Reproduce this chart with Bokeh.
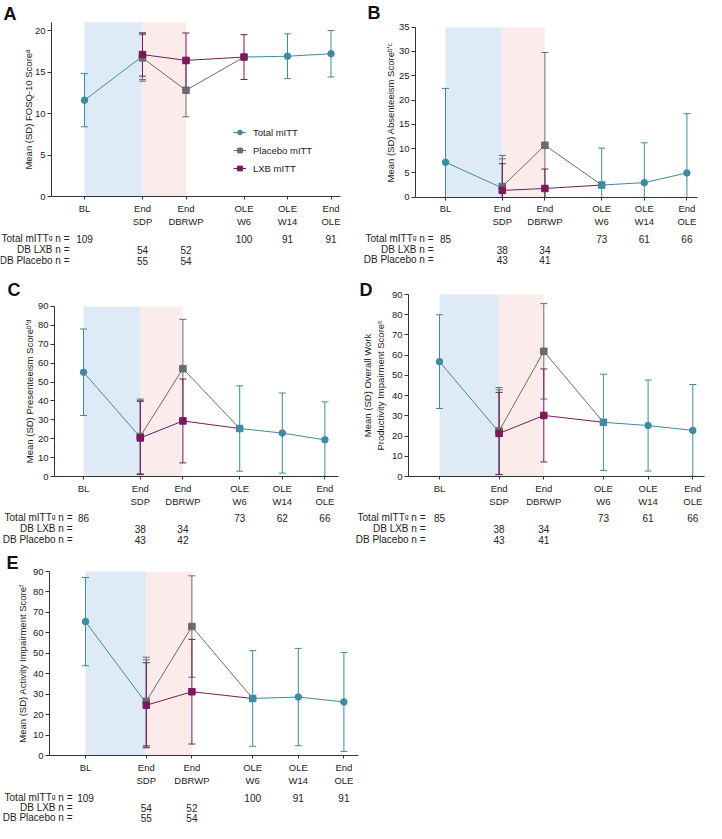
import math
from bokeh.plotting import figure
from bokeh.models import (Range1d, ColumnDataSource, Whisker, TeeHead, BoxAnnotation,
                          FixedTicker, SingleIntervalTicker, Legend, LegendItem)
from bokeh.layouts import column, row
from bokeh.core.properties import value
from bokeh.embed import file_html
from bokeh.resources import INLINE

FONT = "Liberation Sans"
TEAL = "#3f8aa0"
GRAY = "#6b6b6b"
PURPLE = "#7a1a5c"
TXT = "#222222"

# ---------------- data ----------------
timepoints = ["BL", "End\nSDP", "End\nDBRWP", "OLE\nW6", "OLE\nW14", "End\nOLE"]
tp_pos = [0, 4, 7, 11, 14, 17]          # axis scale positions of the time points
row_labels = ["Total mITT\u1d4d n =", "DB LXB n =", "DB Placebo n ="]

# Panel A - FOSQ-10
a_total_mean = [11.6, 16.9, None, 16.8, 16.9, 17.2]
a_total_sd = [3.2, 2.8, None, 2.7, 2.7, 2.8]
a_placebo_mean = [16.7, 12.8]
a_placebo_sd = [2.8, 3.2]
a_lxb_mean = [17.1, 16.4]
a_lxb_sd = [2.6, 3.3]
a_total_n = [109, None, None, 100, 91, 91]
a_lxb_n = [54, 52]
a_placebo_n = [55, 54]

# Panel B - Absenteeism
b_total_mean = [7.2, 1.9, None, 2.5, 3.0, 5.0]
b_total_sd = [15.2, 6.0, None, 7.6, 8.2, 12.2]
b_placebo_mean = [2.2, 10.7]
b_placebo_sd = [6.4, 19.1]
b_lxb_mean = [1.4, 1.8]
b_lxb_sd = [5.5, 4.0]
b_total_n = [85, None, None, 73, 61, 66]
b_lxb_n = [38, 34]
b_placebo_n = [43, 41]

# Panel C - Presenteeism
c_total_mean = [55.2, 20.8, None, 25.4, 23.0, 19.4]
c_total_sd = [22.9, 19.5, None, 22.6, 21.2, 20.1]
c_placebo_mean = [21.2, 57.1]
c_placebo_sd = [19.8, 26.1]
c_lxb_mean = [20.4, 29.4]
c_lxb_sd = [19.4, 22.2]
c_total_n = [86, None, None, 73, 62, 66]
c_lxb_n = [38, 34]
c_placebo_n = [43, 42]

# Panel D - Overall work productivity impairment
d_total_mean = [56.8, 21.9, None, 26.8, 25.2, 22.8]
d_total_sd = [23.2, 21.0, None, 23.8, 22.5, 22.7]
d_placebo_mean = [22.5, 61.9]
d_placebo_sd = [21.5, 23.6]
d_lxb_mean = [21.3, 30.2]
d_lxb_sd = [20.3, 23.0]
d_total_n = [85, None, None, 73, 61, 66]
d_lxb_n = [38, 34]
d_placebo_n = [43, 41]

# Panel E - Activity impairment
e_total_mean = [65.5, 25.5, None, 27.9, 28.6, 26.2]
e_total_sd = [21.6, 21.3, None, 23.4, 23.8, 24.2]
e_placebo_mean = [26.5, 63.1]
e_placebo_sd = [21.6, 24.8]
e_lxb_mean = [24.6, 31.2]
e_lxb_sd = [20.8, 25.6]
e_total_n = [109, None, None, 100, 91, 91]
e_lxb_n = [54, 52]
e_placebo_n = [55, 54]

# ---------------- layout (canvas pixels, origin = top-left of the layout) ----------------
geoA = dict(box=(0, 0, 352, 266), yaxis_x=51, bl_x=84, unit=14.5, xend=340, y0=196, ppu=8.3,
            ymax=21, tick=5, rows=[238, 249, 260], label_right=69, letter=(3, 13.5),
            w6_color=PURPLE, legend=(233, 126), standoff=-2)
geoB = dict(box=(352, 0, 354, 266), yaxis_x=415, bl_x=445, unit=14.2, xend=697, y0=196.7, ppu=4.857,
            ymax=35, tick=5, rows=[238, 249, 259], label_right=433, letter=(367, 12.5),
            w6_color=TEAL, legend=None, standoff=0)
geoC = dict(box=(0, 266, 352, 279), yaxis_x=54, bl_x=83, unit=14.2, xend=338, y0=476, ppu=1.889,
            ymax=90, tick=10, rows=[517, 528, 539], label_right=72, letter=(7, 289),
            w6_color=TEAL, legend=None, standoff=0)
geoD = dict(box=(352, 266, 354, 279), yaxis_x=408, bl_x=439, unit=14.9, xend=704, y0=476, ppu=2.022,
            ymax=90, tick=10, rows=[517, 528, 539], label_right=425, letter=(359, 289),
            w6_color=TEAL, legend=None, standoff=3)
geoE = dict(box=(0, 545, 362, 278), yaxis_x=49, bl_x=85, unit=15.2, xend=358, y0=755, ppu=2.044,
            ymax=90, tick=10, rows=[797, 807, 817], label_right=72, letter=(6, 562),
            w6_color=TEAL, legend=None, standoff=2)


def add_errorbars(p, xs, means, sds, color):
    full = dict(x=[], upper=[], lower=[])
    clip = dict(x=[], upper=[], lower=[])
    for x, m, s in zip(xs, means, sds):
        if m is None:
            continue
        tgt = full if m - s >= 0 else clip
        tgt["x"].append(x)
        tgt["upper"].append(m + s)
        tgt["lower"].append(max(m - s, 0))
    for d, both in ((full, True), (clip, False)):
        if not d["x"]:
            continue
        w = Whisker(source=ColumnDataSource(d), base="x", upper="upper", lower="lower",
                    line_color=color, line_width=1, level="underlay",
                    upper_head=TeeHead(size=7, line_color=color, line_width=1),
                    lower_head=TeeHead(size=7, line_color=color, line_width=1) if both else None)
        p.add_layout(w)


def make_panel(letter, ylabel, tmean, tsd, pmean, psd, lmean, lsd, tn, ln, pn, geo):
    L, T, W, H = geo["box"]
    unit, blx, y0, ppu = geo["unit"], geo["bl_x"], geo["y0"], geo["ppu"]

    def X(px):
        return (px - blx) / unit

    def Y(py):
        return (y0 - py) / ppu

    p = figure(width=W, height=H, x_range=Range1d(X(L), X(L + W)), y_range=Range1d(Y(T + H), Y(T)),
               output_backend="svg", toolbar_location=None, min_border=0,
               outline_line_color=None, background_fill_color="white", border_fill_color="white")
    p.xgrid.visible = False
    p.ygrid.visible = False

    ymax = geo["ymax"]
    p.add_layout(BoxAnnotation(left=tp_pos[0], right=tp_pos[1], bottom=0, top=ymax,
                               fill_color="#dfeaf7", fill_alpha=1, line_color=None, level="image"))
    p.add_layout(BoxAnnotation(left=tp_pos[1], right=tp_pos[2], bottom=0, top=ymax,
                               fill_color="#fcebeb", fill_alpha=1, line_color=None, level="image"))

    # axes
    xa = p.xaxis[0]
    xa.fixed_location = 0
    xa.bounds = (X(geo["yaxis_x"]), X(geo["xend"]))
    xa.ticker = FixedTicker(ticks=tp_pos)
    xa.major_label_overrides = {pos: lab for pos, lab in zip(tp_pos, timepoints)}
    xa.major_tick_in = 0
    xa.major_tick_out = 3
    xa.minor_tick_in = 0
    xa.minor_tick_out = 0
    xa.major_label_standoff = 3
    xa.major_label_text_font = FONT
    xa.major_label_text_font_size = "9.5px"
    xa.major_label_text_color = TXT
    xa.axis_line_color = "#333333"
    xa.major_tick_line_color = "#333333"

    ya = p.yaxis[0]
    ya.fixed_location = X(geo["yaxis_x"])
    ya.bounds = (0, ymax)
    ya.ticker = SingleIntervalTicker(interval=geo["tick"], num_minor_ticks=0)
    ya.major_tick_in = 0
    ya.major_tick_out = 4
    ya.minor_tick_in = 0
    ya.minor_tick_out = 0
    ya.major_label_standoff = 2
    ya.major_label_text_font = FONT
    ya.major_label_text_font_size = "9.5px"
    ya.major_label_text_color = TXT
    ya.axis_label = ylabel
    ya.axis_label_standoff = geo["standoff"]
    ya.axis_label_text_font = FONT
    ya.axis_label_text_font_size = "9.5px"
    ya.axis_label_text_font_style = "normal"
    ya.axis_label_text_color = TXT
    ya.axis_line_color = "#333333"
    ya.major_tick_line_color = "#333333"

    # error bars
    add_errorbars(p, [tp_pos[i] for i in (0, 1, 4, 5)], [tmean[i] for i in (0, 1, 4, 5)],
                  [tsd[i] for i in (0, 1, 4, 5)], TEAL)
    add_errorbars(p, [tp_pos[3]], [tmean[3]], [tsd[3]], geo["w6_color"])
    add_errorbars(p, tp_pos[1:3], pmean, psd, GRAY)
    add_errorbars(p, tp_pos[1:3], lmean, lsd, PURPLE)

    # lines
    ty = [float("nan") if v is None else v for v in tmean]
    tl = p.line(tp_pos, ty, line_color=TEAL, line_width=1)
    pl = p.line(tp_pos[1:4], pmean + [tmean[3]], line_color=GRAY, line_width=1)
    ll = p.line(tp_pos[1:4], lmean + [tmean[3]], line_color=PURPLE, line_width=1)

    # markers
    cidx = [0, 1, 4, 5]
    tc = p.scatter([tp_pos[i] for i in cidx], [tmean[i] for i in cidx], marker="circle", size=6.5,
                   fill_color=TEAL, line_color=TEAL)
    ps = p.scatter(tp_pos[1:3], pmean, marker="square", size=6.5, fill_color=GRAY, line_color=GRAY)
    ls = p.scatter(tp_pos[1:3], lmean, marker="square", size=6.5, fill_color=PURPLE, line_color=PURPLE)
    p.scatter([tp_pos[3]], [tmean[3]], marker="square", size=6.5,
              fill_color=geo["w6_color"], line_color=geo["w6_color"])

    # n table
    rows = [Y(r) for r in geo["rows"]]
    p.text(x=[X(geo["label_right"])] * 3, y=rows, text=row_labels, text_align="right",
           text_baseline="middle", text_font=value(FONT), text_font_size="10px", text_color=TXT)
    nx, ny, nt = [], [], []
    for pos, n in zip(tp_pos, tn):
        if n is not None:
            nx.append(pos); ny.append(rows[0]); nt.append(str(n))
    for pos, n in zip(tp_pos[1:3], ln):
        nx.append(pos); ny.append(rows[1]); nt.append(str(n))
    for pos, n in zip(tp_pos[1:3], pn):
        nx.append(pos); ny.append(rows[2]); nt.append(str(n))
    p.text(x=nx, y=ny, text=nt, text_align="center", text_baseline="middle",
           text_font=value(FONT), text_font_size="10px", text_color=TXT)

    # panel letter
    lx, ly = geo["letter"]
    p.text(x=[X(lx)], y=[Y(ly)], text=[letter], text_align="left", text_baseline="middle",
           text_font=value(FONT), text_font_size="18px", text_font_style="bold", text_color="#111111")

    if geo["legend"] is not None:
        gx, gy = geo["legend"]
        leg = Legend(items=[LegendItem(label="Total mITT", renderers=[tl, tc]),
                            LegendItem(label="Placebo mITT", renderers=[pl, ps]),
                            LegendItem(label="LXB mITT", renderers=[ll, ls])],
                     location=(gx - L, (T + H) - (gy + 48)), padding=0, margin=0,
                     border_line_color=None, background_fill_alpha=0,
                     glyph_width=13, glyph_height=12, label_height=12, spacing=6,
                     label_standoff=7, label_text_font=FONT, label_text_font_size="9.5px",
                     label_text_color=TXT)
        p.add_layout(leg)
    return p


pA = make_panel("A", "Mean (SD) FOSQ-10 Score\u1d43", a_total_mean, a_total_sd, a_placebo_mean,
                a_placebo_sd, a_lxb_mean, a_lxb_sd, a_total_n, a_lxb_n, a_placebo_n, geoA)
pB = make_panel("B", "Mean (SD) Absenteeism Score\u1d47\u02bc\u1d9c", b_total_mean, b_total_sd, b_placebo_mean,
                b_placebo_sd, b_lxb_mean, b_lxb_sd, b_total_n, b_lxb_n, b_placebo_n, geoB)
pC = make_panel("C", "Mean (SD) Presenteeism Score\u1d47\u02bc\u1d48", c_total_mean, c_total_sd, c_placebo_mean,
                c_placebo_sd, c_lxb_mean, c_lxb_sd, c_total_n, c_lxb_n, c_placebo_n, geoC)
pD = make_panel("D", "Mean (SD) Overall Work\nProductivity Impairment Score\u1d49", d_total_mean, d_total_sd,
                d_placebo_mean, d_placebo_sd, d_lxb_mean, d_lxb_sd, d_total_n, d_lxb_n, d_placebo_n, geoD)
pE = make_panel("E", "Mean (SD) Activity Impairment Score\u1da0", e_total_mean, e_total_sd, e_placebo_mean,
                e_placebo_sd, e_lxb_mean, e_lxb_sd, e_total_n, e_lxb_n, e_placebo_n, geoE)

layout = column(row(pA, pB, spacing=0), row(pC, pD, spacing=0), pE, spacing=0)

with open("out.html", "w") as f:
    f.write(file_html(layout, INLINE))
